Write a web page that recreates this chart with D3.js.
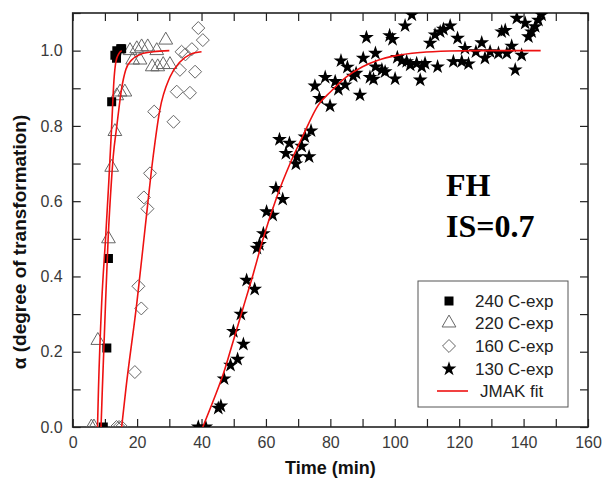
<!DOCTYPE html>
<html>
<head>
<meta charset="utf-8">
<script src="https://cdn.jsdelivr.net/npm/d3@7"></script>
<style>
  html, body { margin: 0; padding: 0; background: #fff; }
  svg { display: block; }
</style>
</head>
<body>
<script>
// ---------------- DATA ----------------
const series240 = [[9.5,0],[10.6,0.21],[11.1,0.448],[12.1,0.864],[13.1,0.988],[13.6,0.98],[13.7,1.0],[14.9,1.005],[15.2,1.005]];
const series220 = [[5.8,0],[6.6,0],[7.8,0.23],[11.1,0.5],[12.1,0.69],[13.1,0.785],[13.7,0.88],[14.7,0.89],[16.2,0.89],
  [17.8,1.0],[18.6,0.975],[19.9,1.005],[20.9,0.975],[21.4,1.01],[23.3,1.01],[24.7,0.957],[26.1,1.0],[26.4,0.957],
  [28.1,0.963],[28.9,1.028],[30.2,0.963]];
const series160 = [[13.6,0],[14.4,0],[15.2,0],[19.3,0.146],[21.3,0.315],[20.4,0.374],[23.2,0.58],[22.1,0.61],[24.0,0.674],
  [25.3,0.838],[31.3,0.811],[32.3,0.891],[36.4,0.888],[33.3,0.949],[38.0,0.944],[35.0,0.99],[33.8,0.997],[37.0,1.004],
  [40.4,1.028],[39.0,1.06]];
const series130 = [[39,0],[41.3,0],[45.2,0.05],[46,0.056],[47,0.128],[49,0.164],[51.2,0.18],[53,0.22],[49.9,0.254],
  [52.2,0.30],[54,0.39],[56.5,0.366],[57.2,0.475],[58,0.485],[59.2,0.514],[60.2,0.572],[62.1,0.563],[63.1,0.634],
  [65.2,0.605],[64.2,0.764],[66.2,0.727],[67.3,0.754],[69.3,0.699],[69.6,0.718],[71.1,0.746],[72.1,0.771],[73.4,0.718],
  [74,0.787],[75.2,0.906],[76.6,0.873],[78.4,0.929],[79.9,0.853],[81.5,0.918],[82.5,0.897],[83.3,0.973],[84.6,0.909],
  [85.3,0.956],[87.1,0.932],[88,0.94],[89.2,0.882],[90.2,0.98],[91.2,1.035],[92.3,0.929],[93.4,0.924],[94,0.993],
  [94,0.957],[96,0.949],[97,0.944],[98.4,1.04],[99.3,1.03],[100.1,0.925],[100.8,0.982],[102.2,0.973],[103.2,1.066],
  [103.7,0.971],[104.8,0.962],[105.3,1.095],[106.8,0.966],[107.9,0.922],[108.4,0.957],[109.4,0.966],[111,1.02],
  [112.5,1.042],[113.3,0.957],[114.1,1.05],[115.1,1.057],[117.2,1.066],[118.2,0.971],[119.5,1.033],[120.8,0.971],
  [121.8,1.006],[122.9,0.965],[125.2,0.997],[127,1.021],[128,0.98],[129.6,0.997],[132.2,0.993],[133.2,1.05],
  [134.3,1.054],[134.8,0.993],[136.3,1.012],[137.4,0.949],[137.9,1.086],[139.4,0.988],[140.5,1.073],[141.5,1.037],
  [142.5,1.05],[143.6,1.064],[144.6,1.081],[145.6,1.095]];

// JMAK fit curves
const fit240 = [[7.7,0],[8.0,0.1],[9.0,0.33],[10.2,0.5],[11.2,0.65],[12.1,0.8],[12.8,0.92],[13.4,0.97],[14.2,0.99],[15.2,1.0]];
const fit220 = [[8.8,0],[9.2,0.1],[10.2,0.33],[11.0,0.5],[12.0,0.65],[12.6,0.72],[13.7,0.8],[15.2,0.9],[16.5,0.95],
  [18.3,0.975],[21,0.99],[25,0.997],[30,1.0]];
const fit160 = [[15.2,0],[16.5,0.1],[20.0,0.336],[22.5,0.53],[25,0.72],[27,0.84],[30.2,0.93],[33.3,0.97],[36.5,0.99],[40,0.997]];
const fit130 = [[40.4,0],[43.7,0.071],[46.8,0.142],[49.9,0.23],[53,0.319],[56.1,0.408],[59,0.497],[63.4,0.612],[67.5,0.70],
  [71.6,0.776],[76.3,0.856],[80,0.89],[85,0.93],[90,0.957],[95,0.975],[100,0.986],[108,0.995],[117,0.999],[125,1.0],[145.3,1.0]];

const xTickLabels = [0,20,40,60,80,100,120,140,160];
const xTickAll = [0,10,20,30,40,50,60,70,80,90,100,110,120,130,140,150,160];
const yTickLabels = [0.0,0.2,0.4,0.6,0.8,1.0];
const yTickAll = [0.0,0.1,0.2,0.3,0.4,0.5,0.6,0.7,0.8,0.9,1.0,1.1];
const legendLabels = ["240 C-exp","220 C-exp","160 C-exp","130 C-exp","JMAK fit"];
const xTitle = "Time (min)";
const yTitle = "α (degree of transformation)";
const noteLines = ["FH","IS=0.7"];

// ---------------- CHART ----------------
const W = 606, H = 484;
const L = 72.7, R = 588, T = 13, B = 427;
const svg = d3.select("body").append("svg").attr("width", W).attr("height", H);

const x = d3.scaleLinear().domain([0,160]).range([L,R]);
const y = d3.scaleLinear().domain([0,1.1]).range([B,T]);

svg.append("defs").append("clipPath").attr("id","plotclip")
  .append("rect").attr("x",L).attr("y",T).attr("width",R-L).attr("height",B-T);

const tickFont = "'Liberation Sans', Arial, sans-serif";
const fmtY = d => yTickLabels.some(v => Math.abs(v-d)<1e-9) ? d3.format(".1f")(d) : "";
const fmtX = d => xTickLabels.includes(d) ? String(d) : "";

function styleAxis(g){
  g.select(".domain").remove();
  g.selectAll(".tick line").attr("stroke","#222").attr("stroke-width",1.2);
  g.selectAll(".tick text").attr("fill","#3a3a3a").style("font-family",tickFont).style("font-size","16px");
}
svg.append("g").attr("transform",`translate(0,${B})`)
  .call(d3.axisBottom(x).tickValues(xTickAll).tickFormat(fmtX).tickSizeInner(-8).tickSizeOuter(0).tickPadding(10))
  .call(styleAxis);
svg.append("g").attr("transform",`translate(0,${T})`)
  .call(d3.axisTop(x).tickValues(xTickAll).tickFormat("").tickSizeInner(-8).tickSizeOuter(0))
  .call(styleAxis);
svg.append("g").attr("transform",`translate(${L},0)`)
  .call(d3.axisLeft(y).tickValues(yTickAll).tickFormat(fmtY).tickSizeInner(-8).tickSizeOuter(0).tickPadding(10))
  .call(styleAxis);
svg.append("g").attr("transform",`translate(${R},0)`)
  .call(d3.axisRight(y).tickValues(yTickAll).tickFormat("").tickSizeInner(-8).tickSizeOuter(0))
  .call(styleAxis);

svg.append("rect").attr("x",L).attr("y",T).attr("width",R-L).attr("height",B-T)
  .attr("fill","none").attr("stroke","#222").attr("stroke-width",1.6);

// symbols
const diamondType = { draw(ctx, size){ const r = Math.sqrt(size/2); ctx.moveTo(0,-r); ctx.lineTo(r,0); ctx.lineTo(0,r); ctx.lineTo(-r,0); ctx.closePath(); } };
const symSquare = d3.symbol().type(d3.symbolSquare).size(81);
const symTri = d3.symbol().type(d3.symbolTriangle).size(82);
const symDia = d3.symbol().type(diamondType).size(84);
const symStar = d3.symbol().type(d3.symbolStar).size(68);

const plot = svg.append("g").attr("clip-path","url(#plotclip)");

function drawPts(data, sym, fill, stroke, sw){
  plot.append("g").selectAll("path").data(data).join("path")
    .attr("transform", d => `translate(${x(d[0])},${y(d[1])})`)
    .attr("d", sym())
    .attr("fill", fill).attr("stroke", stroke).attr("stroke-width", sw);
}
drawPts(series160, symDia, "none", "#666", 1);
drawPts(series220, symTri, "none", "#666", 1);
drawPts(series240, symSquare, "#000", "none", 0);
drawPts(series130, symStar, "#000", "none", 0);

const line = d3.line().x(d => x(d[0])).y(d => y(d[1])).curve(d3.curveMonotoneX);
[fit240, fit220, fit160, fit130].forEach(f => {
  plot.append("path").datum(f).attr("d", line).attr("fill","none").attr("stroke","#ee1111").attr("stroke-width",1.6);
});

// annotation
svg.append("text").attr("x",446).attr("y",196).text(noteLines[0])
  .style("font-family","'Liberation Serif','Times New Roman',serif").style("font-weight","bold").style("font-size","32px").attr("fill","#000");
svg.append("text").attr("x",446).attr("y",237).text(noteLines[1])
  .style("font-family","'Liberation Serif','Times New Roman',serif").style("font-weight","bold").style("font-size","32px").attr("fill","#000");

// axis titles
svg.append("text").attr("x",(L+R)/2).attr("y",474).attr("text-anchor","middle").text(xTitle)
  .style("font-family",tickFont).style("font-weight","bold").style("font-size","18px").attr("fill","#111");
svg.append("text").attr("transform",`translate(26,${(T+B)/2 + 22}) rotate(-90)`).attr("text-anchor","middle").text(yTitle)
  .style("font-family",tickFont).style("font-weight","bold").style("font-size","19px").attr("fill","#111");

// legend
const lg = svg.append("g");
lg.append("rect").attr("x",418).attr("y",281).attr("width",150).attr("height",126)
  .attr("fill","#fff").attr("stroke","#555").attr("stroke-width",1);
const rowsY = [301,323,346,369,391];
const legSyms = [
  {sym: symSquare, fill:"#000", stroke:"none"},
  {sym: symTri, fill:"none", stroke:"#666"},
  {sym: symDia, fill:"none", stroke:"#666"},
  {sym: symStar, fill:"#000", stroke:"none"}
];
legSyms.forEach((s,i) => {
  lg.append("path").attr("transform",`translate(449,${rowsY[i]})`).attr("d", s.sym())
    .attr("fill", s.fill).attr("stroke", s.stroke).attr("stroke-width",1);
});
lg.append("line").attr("x1",437).attr("x2",468).attr("y1",rowsY[4]).attr("y2",rowsY[4])
  .attr("stroke","#ee1111").attr("stroke-width",1.6);
legendLabels.forEach((t,i) => {
  lg.append("text").attr("x", i===4 ? 480 : 475).attr("y", rowsY[i]).attr("dy","0.36em").text(t)
    .style("font-family",tickFont).style("font-size","17px").attr("fill","#222");
});
</script>
</body>
</html>
